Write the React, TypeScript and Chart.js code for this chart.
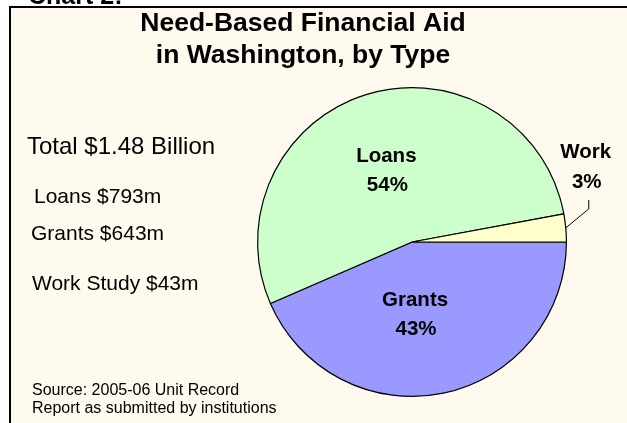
import React, { useEffect, useRef } from "react";
import { Chart, registerables } from "chart.js";

Chart.register(...registerables);

const categories = ["Grants", "Loans", "Work"];
const amounts = [643, 793, 43]; // $ millions
const sliceColors = ["#9999FF", "#CCFFCC", "#FFFFCC"];
const titleLines = ["Need-Based Financial Aid", "in Washington, by Type"];
const summaryLines = ["Total $1.48 Billion", "Loans $793m", "Grants $643m", "Work Study $43m"];
const sourceLines = ["Source: 2005-06 Unit Record", "Report as submitted by institutions"];

const FONT = '"Liberation Sans", Arial, sans-serif';

const decorPlugin = {
  id: "decor",
  beforeDraw(chart: any) {
    const ctx = chart.ctx as CanvasRenderingContext2D;
    const W = chart.width, H = chart.height;
    ctx.save();
    ctx.fillStyle = "#ffffff";
    ctx.fillRect(0, 0, W, H);
    ctx.fillStyle = "#FFF9EE";
    ctx.fillRect(10, 7, W - 10, H - 7);
    ctx.strokeStyle = "#000";
    ctx.lineWidth = 2;
    ctx.beginPath();
    ctx.moveTo(10, H);
    ctx.lineTo(10, 7);
    ctx.lineTo(W, 7);
    ctx.stroke();

    ctx.fillStyle = "#000";
    ctx.textBaseline = "alphabetic";
    ctx.textAlign = "left";
    ctx.font = `bold 25px ${FONT}`;
    ctx.fillText("Chart 2:", 28, 4);

    ctx.textAlign = "center";
    ctx.font = `bold 26.5px ${FONT}`;
    ctx.fillText(titleLines[0], 303, 31);
    ctx.fillText(titleLines[1], 303, 63);

    ctx.textAlign = "left";
    ctx.font = `24px ${FONT}`;
    ctx.fillText(summaryLines[0], 27, 154);
    ctx.font = `21px ${FONT}`;
    ctx.fillText(summaryLines[1], 34, 203);
    ctx.fillText(summaryLines[2], 31, 240);
    ctx.fillText(summaryLines[3], 32, 290);

    ctx.font = `16px ${FONT}`;
    ctx.fillText(sourceLines[0], 32, 395);
    ctx.fillText(sourceLines[1], 32, 413);
    ctx.restore();
  },
  afterDatasetsDraw(chart: any) {
    const ctx = chart.ctx as CanvasRenderingContext2D;
    const meta = chart.getDatasetMeta(0);
    const data = chart.data.datasets[0].data as number[];
    const total = data.reduce((a, b) => a + b, 0);
    ctx.save();
    ctx.fillStyle = "#000";
    ctx.font = `bold 20.5px ${FONT}`;
    ctx.textAlign = "center";
    ctx.textBaseline = "alphabetic";
    meta.data.forEach((arc: any, i: number) => {
      const p = arc.getProps(["x", "y", "startAngle", "endAngle", "outerRadius"], true);
      const mid = (p.startAngle + p.endAngle) / 2;
      const pct = Math.round((data[i] / total) * 100) + "%";
      const name = chart.data.labels[i];
      const share = data[i] / total;
      if (share < 0.05) {
        const ex = p.x + p.outerRadius * Math.cos(mid);
        const ey = p.y + p.outerRadius * Math.sin(mid);
        const bx = ex + 23;
        const by = ey - 19;
        const ty = by - 9;
        ctx.strokeStyle = "#000";
        ctx.lineWidth = 1;
        ctx.beginPath();
        ctx.moveTo(ex, ey);
        ctx.lineTo(bx, by);
        ctx.lineTo(bx, ty);
        ctx.stroke();
        ctx.fillText(String(name), bx - 3, ty - 42);
        ctx.fillText(pct, bx - 2, ty - 12);
      } else {
        const r = p.outerRadius * 0.48;
        let cx = p.x + r * Math.cos(mid);
        const cy = p.y + r * Math.sin(mid);
        if (i === 0) cx -= 12;
        if (i === 1) cx -= 4;
        ctx.fillText(String(name), cx, cy - 9);
        ctx.fillText(pct, cx + 1, cy + 20);
      }
    });
    ctx.restore();
  },
};

export default function App() {
  const ref = useRef<HTMLCanvasElement | null>(null);
  useEffect(() => {
    if (!ref.current) return;
    const chart = new Chart(ref.current, {
      type: "pie",
      data: {
        labels: categories,
        datasets: [
          {
            data: amounts,
            backgroundColor: sliceColors,
            borderColor: "#000",
            borderWidth: 1.2,
          },
        ],
      },
      options: {
        animation: false,
        responsive: false,
        rotation: 90,
        layout: { padding: { left: 257, right: 60, top: 86, bottom: 25 } },
        plugins: {
          legend: { display: false },
          tooltip: { enabled: false },
          title: { display: false },
        },
      },
      plugins: [decorPlugin],
    });
    return () => chart.destroy();
  }, []);
  return (
    <div style={{ position: "fixed", left: 0, top: 0, width: 627, height: 423 }}>
      <canvas ref={ref} width={627} height={423} style={{ display: "block" }} />
    </div>
  );
}
